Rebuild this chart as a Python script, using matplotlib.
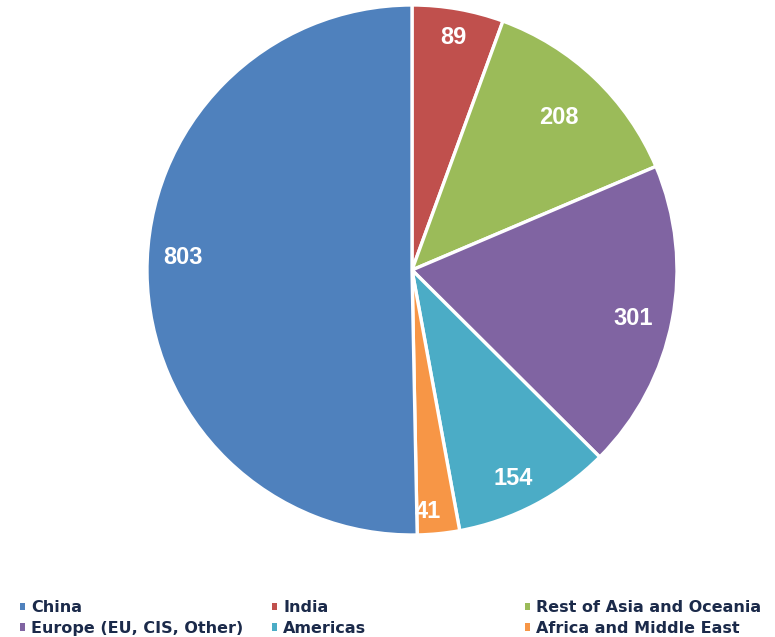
import matplotlib
matplotlib.use("Agg")
import matplotlib.pyplot as plt
import numpy as np
from matplotlib.patches import Patch

regions = ["India", "Rest of Asia and Oceania", "Europe (EU, CIS, Other)",
           "Americas", "Africa and Middle East", "China"]
values = [89, 208, 301, 154, 41, 803]
colors = ["#C0504D", "#9BBB59", "#8064A2", "#4BACC6", "#F79646", "#4F81BD"]

legend_columns = [
    ["China", "Europe (EU, CIS, Other)"],
    ["India", "Americas"],
    ["Rest of Asia and Oceania", "Africa and Middle East"],
]

W, H = 775, 637
fig = plt.figure(figsize=(W / 100, H / 100), dpi=100)
cx, cy, R = 412, 270, 265
ax = fig.add_axes([(cx - R) / W, (H - cy - R) / H, 2 * R / W, 2 * R / H])

wedges, _ = ax.pie(values, colors=colors, startangle=90, counterclock=False,
                   radius=1.0,
                   wedgeprops=dict(edgecolor="white", linewidth=2.4))
ax.set_aspect("equal")
ax.set_xlim(-1, 1)
ax.set_ylim(-1, 1)
ax.axis("off")

# value labels inside each wedge: radial distance and small angular nudge
label_r = [0.89, 0.80, 0.855, 0.875, 0.912, 0.866]
label_nudge = [0.0, -0.3, -1.5, -2.0, -2.0, -3.8]
for w, v, r, d in zip(wedges, values, label_r, label_nudge):
    ang = np.deg2rad((w.theta1 + w.theta2) / 2 + d)
    ax.text(r * np.cos(ang), r * np.sin(ang), str(v), ha="center", va="center",
            color="white", fontsize=17, fontweight="bold",
            family=["Liberation Sans", "DejaVu Sans"])

color_of = dict(zip(regions, colors))
legend_font = dict(family=["DejaVu Sans"], weight="bold", size=11.5)
col_x = [20 / W, 272 / W, 525 / W]
for x, names in zip(col_x, legend_columns):
    handles = [Patch(facecolor=color_of[n], edgecolor="none") for n in names]
    leg = fig.legend(handles, names, loc="upper left",
                     bbox_to_anchor=(x, 1 - 600 / H), frameon=False,
                     handlelength=0.33, handleheight=0.33, handletextpad=0.36,
                     labelspacing=0.36, borderpad=0, borderaxespad=0,
                     prop=legend_font)
    for t in leg.get_texts():
        t.set_color("#1B2A4A")

fig.savefig("out.png", dpi=100)
